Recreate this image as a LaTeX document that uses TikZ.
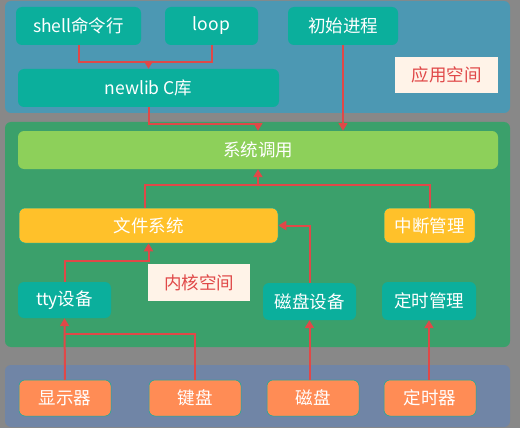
\documentclass[tikz,border=0pt]{standalone}
\usepackage{fontspec}
\setmainfont{Noto Sans CJK SC}
\usepackage{tikz}
\usetikzlibrary{arrows.meta,positioning,calc}
\definecolor{canvas}{HTML}{888888}
\definecolor{appsp}{HTML}{4C98B3}
\definecolor{kernsp}{HTML}{3BA06B}
\definecolor{hwsp}{HTML}{7085A6}
\definecolor{teal}{HTML}{0BAF9C}
\definecolor{sysc}{HTML}{8DD05A}
\definecolor{fsy}{HTML}{FFC12A}
\definecolor{hwo}{HTML}{FF8C55}
\definecolor{tagbg}{HTML}{FFF3E8}
\definecolor{redline}{HTML}{E04848}
\tikzset{
  panel/.style={rounded corners=6pt},
  blk/.style={rounded corners=6pt, text=white, inner sep=0pt,
              font=\fontsize{17.5}{20}\selectfont},
  tealb/.style={blk, fill=teal},
  yelb/.style={blk, fill=fsy, draw=teal, line width=0.5pt},
  hwb/.style={blk, fill=hwo, draw=teal, line width=0.5pt},
  sysb/.style={blk, fill=sysc},
  tag/.style={fill=tagbg, text=redline, inner sep=0pt,
              font=\fontsize{17.5}{20}\selectfont},
  ln/.style={draw=redline, line width=2pt},
  ar/.style={ln, -{Triangle[length=8pt,width=9pt]}},
}
% box from pixel corners: name, style, x0, y0, x1, y1, text
\newcommand{\pbox}[7]{%
  \node[#2, minimum width=#5pt-#3pt, minimum height=#6pt-#4pt]
       (#1) at ({(#3+#5)/2},{(#4+#6)/2}) {#7};}
\begin{document}
\begin{tikzpicture}[x=1pt, y=-1pt]
  \fill[canvas] (0,0) rectangle (520,428);
  \useasboundingbox (0,0) rectangle (520,428);

  % --- three layers ---
  \fill[panel, appsp]  (5,1)   rectangle (510,113);
  \fill[panel, kernsp] (5,122) rectangle (510,347);
  \fill[panel, hwsp]   (5,365) rectangle (510,427);

  % --- user space ---
  \pbox{shell}{tealb}{16}{7}{141}{45}{shell命令行}
  \pbox{loop}{tealb}{165}{7}{258}{45}{loop}
  \pbox{init}{tealb}{288}{7}{398}{45}{初始进程}
  \pbox{newlib}{tealb}{18}{69}{279}{107}{newlib C库}
  \pbox{apptag}{tag}{395}{57}{498}{93}{应用空间}

  % --- kernel space ---
  \pbox{syscall}{sysb}{18}{131}{498}{169}{系统调用}
  \pbox{fs}{yelb}{19}{208}{278}{243}{文件系统}
  \pbox{irq}{yelb}{384}{208}{475}{243}{中断管理}
  \pbox{kerntag}{tag}{148}{264}{250}{301}{内核空间}
  \pbox{tty}{tealb}{18}{282}{111}{318}{tty设备}
  \pbox{diskdev}{tealb}{263}{283}{356}{320}{磁盘设备}
  \pbox{timemgr}{tealb}{382}{282}{476}{320}{定时管理}

  % --- hardware ---
  \pbox{disp}{hwb}{19}{380}{111}{416}{显示器}
  \pbox{kbd}{hwb}{149}{380}{241}{416}{键盘}
  \pbox{disk}{hwb}{267}{380}{359}{416}{磁盘}
  \pbox{timer}{hwb}{384}{380}{476}{416}{定时器}

  % --- connectors ---
  \coordinate (libjun) at (newlib.north |- 0,62);
  \draw[ln] (shell.south) |- (libjun) -| (loop.south);
  \draw[ar] (libjun) -- (newlib.north);
  \draw[ar] (newlib.south) |- ($(syscall.north)+(0,-7)$) -- (syscall.north);
  \draw[ar] (init.south) -- (init.south |- syscall.north);

  \coordinate (sysjun) at (syscall.south |- 0,185);
  \draw[ln] ($(fs.north)+(-4,0)$) |- (sysjun) -| (irq.north);
  \draw[ar] (sysjun) -- (syscall.south);
  \draw[ar] (diskdev.north) |- (fs.east);
  \draw[ar] (tty.north) |- ($(fs.south)+(0,18)$) -- (fs.south);

  \coordinate (ttyjun) at (tty.south |- 0,334);
  \draw[ln] (kbd.north) |- (ttyjun);
  \draw[ar] (disp.north) -- (tty.south);
  \draw[ar] (diskdev.south |- disk.north) -- (diskdev.south);
  \draw[ar] (timemgr.south |- timer.north) -- (timemgr.south);
\end{tikzpicture}
\end{document}
